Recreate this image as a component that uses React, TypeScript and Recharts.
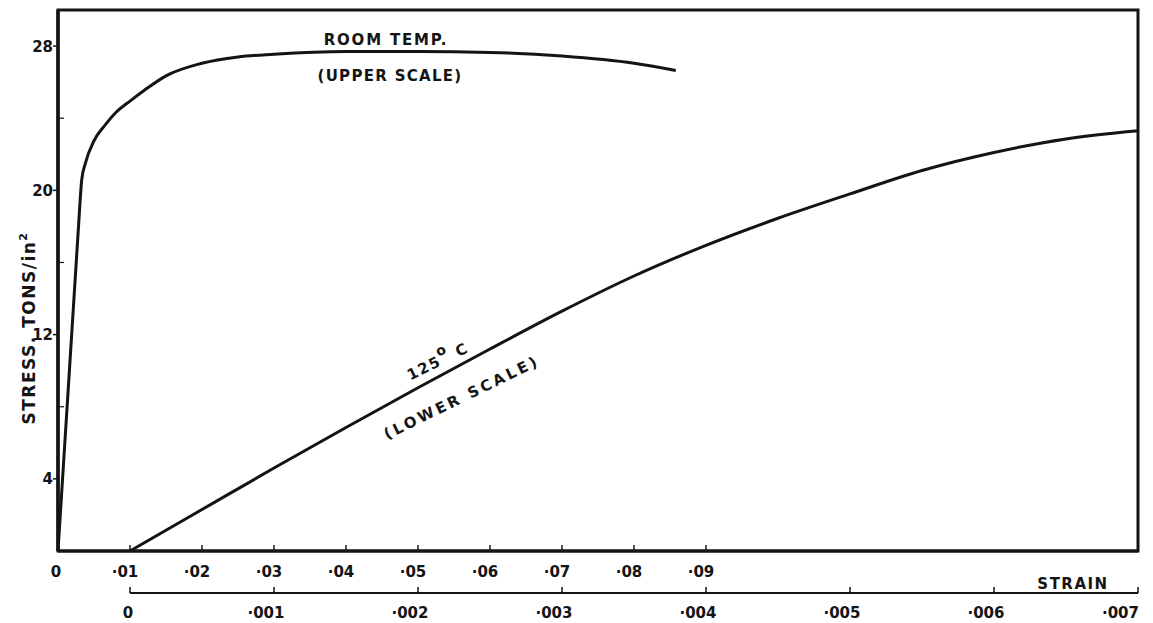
import { LineChart, Line, XAxis, YAxis, ReferenceArea } from 'recharts'

const INK = '#141414'
const FONT = '"DejaVu Sans", sans-serif'

const WIDTH = 1153
const HEIGHT = 623
const MARGIN = { top: 10, right: 15, bottom: 0, left: 0 }
const Y_AXIS_W = 58
const PLOT_W = WIDTH - MARGIN.right - Y_AXIS_W

// the upper scale runs 0 to .15; the lower scale starts at its .01 mark
const UPPER_MAX = 0.15
const LOWER_MAX = 0.007
const LOWER_START = 0.01
const LOWER_OFFSET = PLOT_W * (LOWER_START / UPPER_MAX)
const STRESS_MAX = 30

// room temperature, read against the upper strain scale
const roomStrain = [0, 0.0028, 0.0033, 0.0038, 0.005, 0.0065, 0.008, 0.01, 0.012, 0.015, 0.02, 0.025, 0.03, 0.04, 0.05, 0.06, 0.07, 0.08, 0.0858]
const roomStress = [0, 17.7, 20.6, 21.5, 22.75, 23.6, 24.3, 24.95, 25.55, 26.35, 27.05, 27.4, 27.55, 27.7, 27.7, 27.65, 27.45, 27.05, 26.65]

// 125 C, read against the lower strain scale
const hotStrain = [0, 0.0005, 0.001, 0.0015, 0.002, 0.0025, 0.003, 0.0035, 0.004, 0.0045, 0.005, 0.0055, 0.006, 0.0065, 0.007]
const hotStress = [0, 2.3, 4.6, 6.85, 9.05, 11.2, 13.3, 15.25, 16.95, 18.45, 19.8, 21.1, 22.1, 22.85, 23.3]

const upperTicks = [0, 0.01, 0.02, 0.03, 0.04, 0.05, 0.06, 0.07, 0.08, 0.09]
const lowerTicks = [0, 0.001, 0.002, 0.003, 0.004, 0.005, 0.006, 0.007]
const stressTicks = [4, 8, 12, 16, 20, 24, 28]
const labelledStress = [4, 12, 20, 28]

const roomData = roomStrain.map((s, i) => ({ strain: s, stress: roomStress[i] }))
const hotData = hotStrain.map((s, i) => ({ strain: s, stress: hotStress[i] }))

const txt = { fontFamily: FONT, fontWeight: 700, fill: INK } as const

const upperLabel = (v: number) => (v === 0 ? '0' : '·' + String(Math.round(v * 100)).padStart(2, '0'))
const lowerLabel = (v: number) => (v === 0 ? '0' : '·' + String(Math.round(v * 1000)).padStart(3, '0'))

function UpperTick({ x, y, payload }: any) {
  const v = payload.value as number
  return (
    <g>
      {v > 0 && <line x1={x} x2={x} y1={y} y2={y - 6} stroke={INK} strokeWidth={1.5} />}
      <text x={v === 0 ? x - 2 : x - 5} y={y + 26} textAnchor="middle" fontSize={15} {...txt}>{upperLabel(v)}</text>
    </g>
  )
}

function LowerTick({ x, y, payload }: any) {
  const v = payload.value as number
  const last = v === LOWER_MAX
  return (
    <g>
      <line x1={x} x2={x} y1={y} y2={y - 6} stroke={INK} strokeWidth={1.5} />
      <text x={last ? x + 1 : v === 0 ? x - 2 : x - 8} y={y + 25} textAnchor={last ? 'end' : 'middle'} fontSize={15} {...txt}>
        {lowerLabel(v)}
      </text>
    </g>
  )
}

function StressTick({ x, y, payload }: any) {
  const v = payload.value as number
  if (!labelledStress.includes(v)) {
    return <line x1={x} x2={x + 6} y1={y} y2={y} stroke={INK} strokeWidth={1.2} />
  }
  return (
    <g>
      <line x1={x - 5} x2={x} y1={y} y2={y} stroke={INK} strokeWidth={1.5} />
      <text x={x - 5} y={y + 5.5} textAnchor="end" fontSize={15} {...txt}>{v}</text>
    </g>
  )
}

export default function App() {
  return (
    <div style={{ position: 'absolute', left: 0, top: 0, background: '#fff' }}>
      <LineChart width={WIDTH} height={HEIGHT} margin={MARGIN}>
        {/* lower (125 C) scale sits under the upper one, starting at its .01 mark */}
        <XAxis
          xAxisId="heated" type="number" dataKey="strain" domain={[0, LOWER_MAX]} ticks={lowerTicks} interval={0}
          padding={{ left: LOWER_OFFSET, right: 0 }}
          height={30} tickSize={0} tickMargin={0} tickLine={false}
          axisLine={{ stroke: INK, strokeWidth: 2, strokeDasharray: `0 ${LOWER_OFFSET} ${PLOT_W - LOWER_OFFSET} 0` }}
          tick={LowerTick}
        />
        <XAxis
          xAxisId="ambient" type="number" dataKey="strain" domain={[0, UPPER_MAX]} ticks={upperTicks} interval={0}
          height={42} tickSize={0} tickMargin={0} tickLine={false}
          axisLine={{ stroke: INK, strokeWidth: 3 }} tick={UpperTick}
        />
        <YAxis
          yAxisId="stress" type="number" domain={[0, STRESS_MAX]} ticks={stressTicks} interval={0}
          width={Y_AXIS_W} tickSize={0} tickMargin={0} tickLine={false}
          axisLine={{ stroke: INK, strokeWidth: 3.5 }} tick={StressTick}
        />

        {/* box round the plot */}
        <ReferenceArea xAxisId="ambient" yAxisId="stress" x1={0} x2={UPPER_MAX} y1={0} y2={STRESS_MAX} fill="none" stroke={INK} strokeWidth={3} />

        <Line xAxisId="ambient" yAxisId="stress" data={roomData} dataKey="stress" type="monotone" stroke={INK} strokeWidth={3} dot={false} isAnimationActive={false} />
        <Line xAxisId="heated" yAxisId="stress" data={hotData} dataKey="stress" type="monotone" stroke={INK} strokeWidth={3} dot={false} isAnimationActive={false} />

        <text x={386} y={45} textAnchor="middle" fontSize={15} letterSpacing={1.8} {...txt}>ROOM TEMP.</text>
        <text x={390} y={81} textAnchor="middle" fontSize={15} letterSpacing={1.3} {...txt}>(UPPER SCALE)</text>
        <g transform="translate(440 366) rotate(-26)">
          <text x={0} y={0} textAnchor="middle" fontSize={15} letterSpacing={1.5} {...txt}>
            125<tspan dy={-9} fontSize={14}>o</tspan><tspan dy={9}> C</tspan>
          </text>
        </g>
        <g transform="translate(464 402) rotate(-26)">
          <text x={0} y={0} textAnchor="middle" fontSize={15} letterSpacing={3} {...txt}>(LOWER SCALE)</text>
        </g>
        <text x={1073} y={589} textAnchor="middle" fontSize={15} letterSpacing={1.5} {...txt}>STRAIN</text>
        <g transform="translate(35 328) rotate(-90)">
          <text x={0} y={0} textAnchor="middle" fontSize={17} letterSpacing={1.5} {...txt}>
            STRESS. TONS/in<tspan dy={-8} fontSize={11}>2</tspan>
          </text>
        </g>
      </LineChart>
    </div>
  )
}
